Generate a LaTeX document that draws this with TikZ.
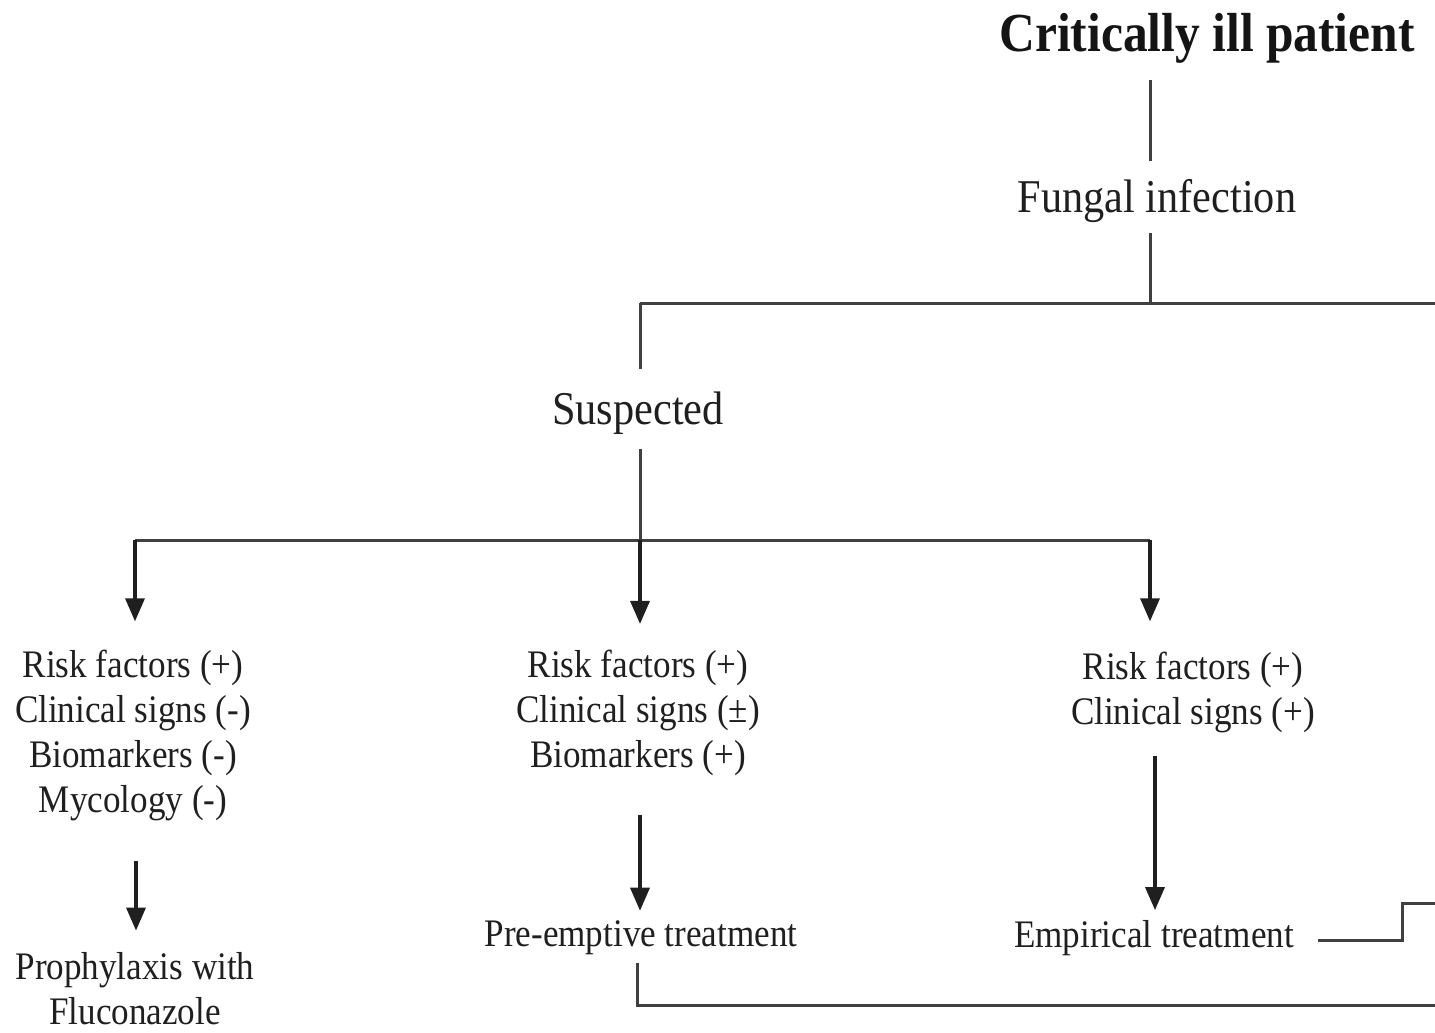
\documentclass[tikz,border=0pt]{standalone}
\usepackage{fontspec}
\setmainfont[FakeStretch=0.9]{Liberation Serif}
\usetikzlibrary{arrows.meta}
\begin{document}
\begin{tikzpicture}[x=1pt,y=-1pt,
  ln/.style={draw=black!75, line width=3pt},
  arr/.style={draw=black!88, line width=3.4pt, -{Triangle[width=19pt,length=23pt]}},
  small/.style={font=\fontsize{39}{45}\selectfont, align=center, inner sep=0pt, text=black!88},
  med/.style={font=\fontsize{47}{50}\selectfont, inner sep=0pt, text=black!88},
  big/.style={font=\fontsize{55}{60}\selectfont\bfseries, inner sep=0pt, text=black!92}]
\useasboundingbox (0,0) rectangle (1435,1033);
% text nodes
\node[big] (crit) at (1207,38) {Critically ill patient};
\node[med] (fungal) at (1157,201) {Fungal infection};
\node[med] (susp) at (638,413) {Suspected};
\node[small] (left) at (133,735) {Risk factors (+)\\Clinical signs (-)\\Biomarkers (-)\\Mycology (-)};
\node[small] (mid) at (638,713) {Risk factors (+)\\Clinical signs (±)\\Biomarkers (+)};
\node[small] (right) at (1193,692) {Risk factors (+)\\Clinical signs (+)};
\node[small] (proph) at (135,989) {Prophylaxis with\\Fluconazole};
\node[small] (pre) at (641,938) {Pre-emptive treatment};
\node[small] (emp) at (1154,938) {Empirical treatment};
% junctions and free ends
\coordinate (jf) at (1150,303);
\coordinate (js) at (640,303);
\coordinate (eR1) at (1435,303);
\coordinate (jm) at (640,540);
\coordinate (jl) at (135,540);
\coordinate (jr) at (1150,540);
\coordinate (k) at (1402,903);
\coordinate (eR2) at (1435,903);
\coordinate (b) at (637,1005);
\coordinate (eR3) at (1435,1005);
\coordinate (xl) at (136,0);
\coordinate (xr) at (1155,0);
% connectors
\draw[ln, shorten <=17pt, shorten >=18pt] (crit.south -| jf) -- (fungal.north -| jf);
\draw[ln, shorten <=10pt] (fungal.south -| jf) -- (jf);
\draw[ln] (js) -- (eR1);
\draw[ln, shorten >=22pt] (js) -- (susp.north -| js);
\draw[ln, shorten <=14pt] (susp.south -| jm) -- (jm);
\draw[ln] (jl) -- (jr);
\draw[arr, shorten >=28pt] (jl) -- (jl |- left.north);
\draw[arr, shorten >=26pt] (jm) -- (jm |- mid.north);
\draw[arr, shorten >=30pt] (jr) -- (jr |- right.north);
\draw[arr, shorten <=40pt, shorten >=22pt] (left.south -| xl) -- (proph.north -| xl);
\draw[arr, shorten <=39pt, shorten >=10pt] (mid.south -| jm) -- (pre.north -| jm);
\draw[arr, shorten <=23pt, shorten >=10pt] (right.south -| xr) -- (emp.north -| xr);
\draw[ln, shorten <=24pt] ([yshift=-2pt]emp.east) -| (k) -- (eR2);
\draw[ln, shorten <=8pt] (pre.south -| b) -- (b) -- (eR3);
\end{tikzpicture}
\end{document}
